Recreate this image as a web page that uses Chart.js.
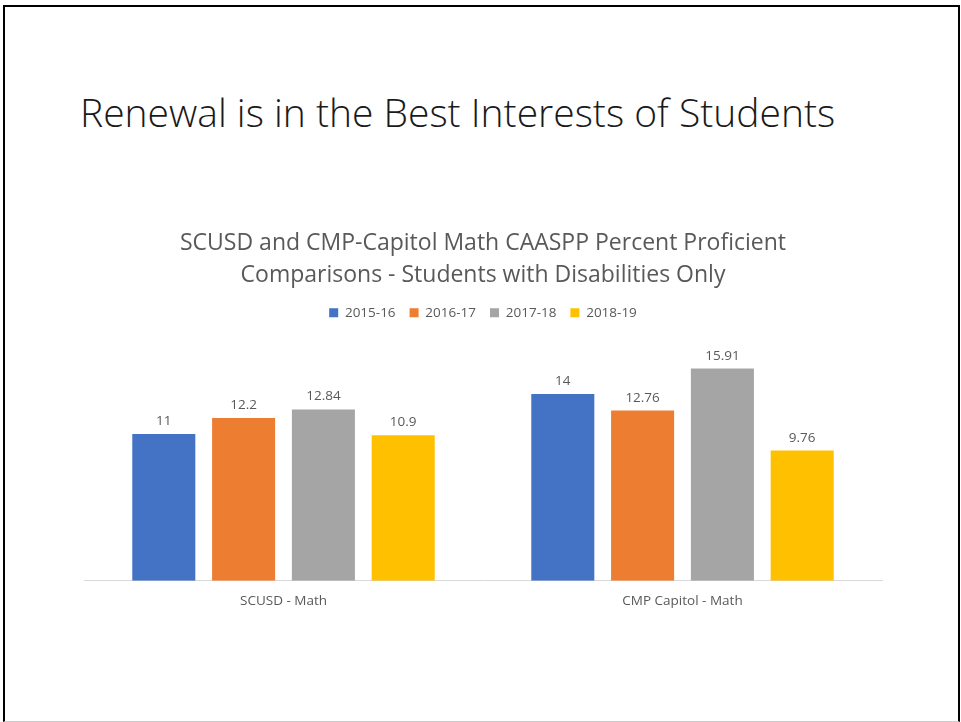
<!DOCTYPE html>
<html>
<head>
<meta charset="utf-8">
<script src="https://cdn.jsdelivr.net/npm/chart.js@4.4.0/dist/chart.umd.min.js"></script>
<style>
  body { margin: 0; background: #fff; }
  #slide { position: relative; width: 961px; height: 722px; overflow: hidden; }
  #frame { position: absolute; left: 3px; top: 5px; width: 953px; height: 714px; border: 2px solid #000; border-bottom: 1px solid #ccc; border-right: 2px solid #000; }
  #heading { position: absolute; left: 80px; top: 92px; font-family: "Open Sans", sans-serif; font-weight: 300; font-size: 39px; line-height: 1; color: #1a1a1a; white-space: nowrap; }
  #wrap { position: absolute; left: 0; top: 228px; width: 961px; height: 393px; }
</style>
</head>
<body>
<div id="slide">
  <div id="frame"></div>
  <div id="heading">Renewal is in the Best Interests of Students</div>
  <div id="wrap"><canvas id="chart"></canvas></div>
</div>
<script>
const categories = ['SCUSD - Math', 'CMP Capitol - Math'];
const years = ['2015-16', '2016-17', '2017-18', '2018-19'];
const values2015 = [11, 14];
const values2016 = [12.2, 12.76];
const values2017 = [12.84, 15.91];
const values2018 = [10.9, 9.76];
const colors = ['#4472C4', '#ED7D31', '#A5A5A5', '#FFC000'];
const chartTitle = ['SCUSD and CMP-Capitol Math CAASPP Percent Proficient', 'Comparisons - Students with Disabilities Only'];

const fontFamily = '"Open Sans", sans-serif';
const textColor = '#595959';

// draws the value above each bar
const valueLabels = {
    id: 'valueLabels',
    afterDatasetsDraw(chart) {
        const ctx = chart.ctx;
        ctx.save();
        ctx.font = '13.5px ' + fontFamily;
        ctx.fillStyle = textColor;
        ctx.textAlign = 'center';
        ctx.textBaseline = 'bottom';
        chart.data.datasets.forEach((ds, i) => {
            chart.getDatasetMeta(i).data.forEach((bar, j) => {
                ctx.fillText(String(ds.data[j]), bar.x, bar.y - 6);
            });
        });
        ctx.restore();
    }
};

// a bit more room under the legend, like the original
const legendSpace = {
    id: 'legendSpace',
    beforeInit(chart) {
        const fit = chart.legend.fit;
        chart.legend.fit = function () {
            fit.bind(chart.legend)();
            this.height += 11;
        };
    }
};

const seriesValues = [values2015, values2016, values2017, values2018];

new Chart(document.getElementById('chart'), {
    type: 'bar',
    data: {
        labels: categories,
        datasets: years.map((y, i) => ({
            label: y,
            data: seriesValues[i],
            backgroundColor: colors[i],
            borderWidth: 0
        }))
    },
    options: {
        responsive: true,
        maintainAspectRatio: false,
        animation: false,
        layout: { padding: { left: 84, right: 79, top: 0, bottom: 0 } },
        datasets: { bar: { categoryPercentage: 0.8, barPercentage: 0.79 } },
        scales: {
            x: {
                grid: { display: false, drawTicks: false },
                border: { color: '#D9D9D9' },
                ticks: { color: textColor, font: { family: fontFamily, size: 13.5 }, padding: 12 }
            },
            y: {
                display: false,
                min: 0,
                max: 18
            }
        },
        plugins: {
            title: {
                display: true,
                text: chartTitle,
                color: textColor,
                font: { family: fontFamily, size: 23, weight: 'normal', lineHeight: 1.37 },
                padding: { top: 0, bottom: 1 }
            },
            legend: {
                position: 'top',
                labels: {
                    color: textColor,
                    font: { family: fontFamily, size: 13.5 },
                    boxWidth: 9,
                    boxHeight: 9,
                    padding: 14
                }
            },
            tooltip: { enabled: false }
        }
    },
    plugins: [valueLabels, legendSpace]
});
</script>
</body>
</html>
